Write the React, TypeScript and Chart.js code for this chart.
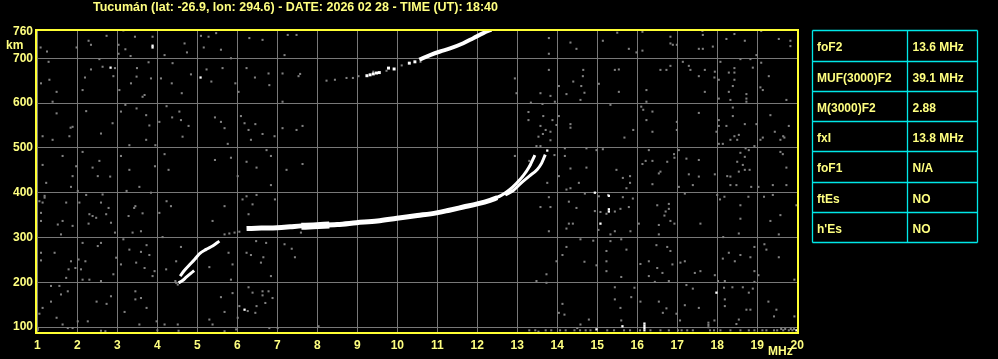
import React, { useEffect, useRef } from "react";
import { Chart, registerables } from "chart.js";
Chart.register(...registerables);

const TITLE = "Tucumán (lat: -26.9, lon: 294.6) - DATE: 2026 02 28 - TIME (UT): 18:40";
const freqTicks = [1, 2, 3, 4, 5, 6, 7, 8, 9, 10, 11, 12, 13, 14, 15, 16, 17, 18, 19, 20];
const heightTicks = [100, 200, 300, 400, 500, 600, 700, 760];
const paramNames = ["foF2", "MUF(3000)F2", "M(3000)F2", "fxI", "foF1", "ftEs", "h'Es"];
const paramValues = ["13.6 MHz", "39.1 MHz", "2.88", "13.8 MHz", "N/A", "NO", "NO"];

// F2 trace (MHz, km)
const mainTraceFreq = [6.23, 6.6, 7.0, 7.32, 7.6, 7.98, 8.5, 8.98, 9.5, 9.99, 10.5, 10.98, 11.3, 11.65, 12.0, 12.32, 12.5];
const mainTraceHeight = [320, 321, 322, 324, 326, 327, 329, 333, 337, 343, 349, 355, 361, 368, 375, 383, 389];
const blobFreq = [7.6, 7.9, 8.3];
const blobHeight = [325, 326, 328];
const ordinaryFreq = [12.45, 12.6, 12.8, 12.98, 13.15, 13.3, 13.44];
const ordinaryHeight = [388, 394, 406, 421, 438, 458, 484];
const extraFreq = [12.7, 12.9, 13.1, 13.3, 13.5, 13.61, 13.7];
const extraHeight = [395, 405, 422, 437, 452, 466, 485];
const lowUpperFreq = [4.57, 4.68, 4.8, 4.93, 5.05, 5.22, 5.38, 5.55];
const lowUpperHeight = [214, 227, 238.5, 251, 263.6, 273.5, 281, 292];
const lowLowerFreq = [4.53, 4.63, 4.73, 4.85, 4.92];
const lowLowerHeight = [199, 204, 212, 221, 226];
const hop2Freq = [10.55, 10.82, 11.07, 11.32, 11.65, 11.9, 12.15, 12.35];
const hop2Height = [697, 707, 715, 722, 733.5, 744.7, 756, 764];
const hop2DotsFreq = [9.24, 9.32, 9.4, 9.48, 9.55, 9.78, 9.92, 10.3, 10.44];
const hop2DotsHeight = [661, 663, 665, 667, 668, 678, 676, 689, 692];

const whiteSpecks: [number, number][] = [
  [2.83, 679], [3.88, 728], [3.88, 724], [5.08, 657], [6.18, 139], [13.75, 494], [14.94, 400], [15.29, 393],
  [15.29, 363], [15.29, 358], [15.08, 331], [17.98, 177], [15.63, 102], [14.98, 95], [16.18, 93], [16.18, 98],
  [16.18, 103], [16.18, 108], [19.98, 93],
];

const noiseUpperLeft: [number, number][] = [
  [1.08, 724], [1.24, 715], [1.28, 692], [1.09, 644], [1.3, 652], [1.48, 625], [1.38, 603], [1.48, 577], [1.13, 526],
  [1.38, 518], [1.8, 526], [1.83, 545], [1.98, 724], [2.28, 739], [2.73, 750], [3.15, 762], [3.44, 748], [3.88, 748],
  [3.2, 720], [3.03, 710], [3.33, 705], [2.55, 698], [2.63, 681], [2.94, 678], [2.9, 660], [2.19, 657], [2.34, 675],
  [2.13, 629], [3.05, 629], [3.49, 678], [3.48, 659], [3.78, 691], [3.84, 655], [4.09, 655], [3.34, 644], [3.68, 618],
  [3.63, 614], [4.18, 707], [4.38, 689], [4.36, 644], [4.61, 622], [4.84, 664], [5.23, 675], [5.35, 648], [5.63, 678],
  [5.95, 644], [6.03, 625], [6.23, 678], [6.44, 657], [6.8, 640], [6.78, 666], [7.13, 666], [7.13, 603], [7.18, 707],
  [7.26, 752], [6.63, 741], [6.3, 745], [5.47, 756], [5.28, 748], [5.09, 750], [5.16, 724], [5.59, 719], [5.84, 700],
  [4.74, 713], [4.68, 733], [2.88, 555], [2.22, 582], [1.88, 547], [2.59, 532], [3.09, 581], [3.2, 596], [3.48, 588],
  [3.72, 573], [3.8, 550], [3.72, 518], [3.95, 506], [3.3, 506], [3.3, 451], [3.09, 482], [3.94, 459], [4.18, 486],
  [4.28, 451], [4.37, 568], [4.55, 581], [4.59, 562], [4.63, 525], [4.78, 549], [4.05, 558], [4.23, 593], [5.44, 568],
  [5.59, 558], [5.68, 544], [6.09, 571], [6.18, 555], [6.28, 540], [6.45, 553], [6.34, 518], [6.63, 531], [6.93, 526],
  [7.13, 544], [5.76, 509], [5.84, 478], [6.23, 469], [6.48, 456], [6.73, 495], [6.84, 482], [7.23, 451], [6.01, 437],
  [5.44, 473], [2.55, 471], [2.38, 456], [2.13, 491], [1.63, 482], [1.13, 462], [1.97, 459], [1.88, 437], [2.82, 436],
  [2.51, 437], [2.34, 730], [3.03, 730],
];

const noiseLowerLeft: [number, number][] = [
  [1.18, 393], [1.18, 389], [1.13, 378], [1.05, 381], [1.09, 355], [1.09, 337], [1.63, 337], [1.51, 329], [1.88, 326],
  [1.59, 307], [1.72, 378], [1.84, 413], [2.01, 404], [2.22, 395], [2.05, 378], [2.3, 352], [2.38, 348], [2.47, 344],
  [2.28, 331], [2.59, 378], [2.63, 396], [2.78, 366], [2.72, 352], [2.94, 311], [2.84, 333], [3.23, 404], [3.45, 370],
  [3.42, 366], [3.28, 348], [3.63, 354], [3.38, 311], [3.59, 314], [3.55, 413], [3.84, 400], [4.23, 381], [4.34, 370],
  [4.05, 355], [4.13, 301], [2.59, 288], [2.51, 281], [2.13, 288], [1.09, 266], [1.09, 249], [1.43, 266], [1.84, 247],
  [2.03, 251], [2.2, 247], [2.09, 229], [1.78, 229], [1.95, 232], [1.72, 210], [2.13, 206], [2.3, 206], [2.59, 203],
  [2.97, 255], [3.09, 240], [2.9, 218], [3.15, 296], [3.3, 273], [3.59, 268], [3.73, 283], [3.8, 261], [3.47, 244],
  [3.68, 232], [3.93, 225], [3.88, 214], [4.59, 279], [4.47, 247], [4.22, 229], [5.38, 337], [5.68, 370], [5.78, 266],
  [5.88, 240], [5.84, 206], [5.3, 234], [6.13, 385], [6.23, 392], [6.48, 395], [6.38, 374], [6.28, 352], [6.47, 292],
  [6.72, 288], [6.94, 385], [6.84, 417], [7.18, 285], [6.23, 266], [6.34, 261], [6.65, 256], [6.59, 244], [6.84, 214],
  [1.22, 422], [1.34, 192], [1.55, 192], [1.76, 180], [1.59, 173], [1.34, 157], [1.13, 143], [1.48, 121], [1.63, 106],
  [1.05, 130], [2.48, 157], [2.84, 169], [2.73, 152], [2.26, 113], [2.01, 113], [1.76, 98], [1.88, 98], [3.18, 134],
  [3.45, 180], [3.45, 162], [3.59, 165], [3.73, 143], [3.55, 106], [3.98, 113], [4.18, 106], [4.51, 106], [2.7, 91],
  [1.01, 98], [1.01, 94], [5.59, 167], [5.88, 176], [5.68, 134], [6.05, 147], [6.28, 189], [6.38, 177], [6.63, 171],
  [6.7, 154], [6.88, 165], [6.48, 147], [6.63, 180], [6.78, 180], [6.01, 121], [6.26, 136], [6.45, 132], [7.01, 98],
  [6.8, 98], [5.97, 95], [5.3, 117], [5.38, 106], [5.68, 91], [4.45, 203], [4.51, 195], [4.47, 199], [5.68, 307],
  [5.8, 309], [5.93, 311], [6.05, 313], [2.59, 92], [4.0, 93], [4.53, 92],
];

const noiseMiddle: [number, number][] = [
  [7.48, 752], [7.57, 665], [7.53, 660], [7.48, 540], [7.63, 549], [7.63, 464], [12.94, 655], [12.98, 622],
  [13.58, 622], [13.63, 598], [13.34, 601], [13.28, 562], [13.65, 571], [13.58, 549], [13.64, 531], [13.53, 525],
  [13.48, 504], [13.58, 504], [12.94, 482], [13.3, 471], [13.33, 462], [13.13, 436], [8.23, 650], [8.44, 652],
  [8.73, 656], [8.89, 656], [9.03, 660], [9.4, 670], [9.73, 672], [10.58, 692], [10.75, 702], [10.11, 684],
  [7.36, 275], [7.44, 256], [7.59, 311], [8.03, 102], [13.48, 203], [13.58, 368], [13.53, 90], [13.28, 580],
];

const noiseUpperRight: [number, number][] = [
  [13.79, 745], [13.79, 710], [13.79, 674], [13.83, 616], [13.94, 603], [14.04, 638], [14.04, 571], [13.88, 562],
  [13.98, 551], [13.83, 536], [13.83, 517], [13.71, 540], [14.33, 735], [14.48, 721], [14.4, 648], [14.23, 620],
  [14.65, 674], [14.64, 660], [14.6, 638], [14.68, 623], [14.58, 607], [14.33, 553], [14.33, 545], [14.19, 499],
  [14.19, 482], [13.93, 484], [14.33, 454], [14.04, 437], [14.73, 499], [14.73, 456], [14.98, 495], [15.14, 739],
  [15.04, 643], [15.33, 596], [15.5, 757], [15.44, 674], [15.54, 675], [15.54, 625], [15.79, 721], [15.68, 523],
  [15.9, 540], [15.14, 497], [15.48, 451], [15.64, 433], [15.82, 437], [16.13, 759], [16.13, 717], [15.98, 713],
  [16.23, 629], [16.23, 603], [16.1, 592], [16.15, 585], [16.38, 581], [16.23, 562], [16.38, 536], [16.29, 495],
  [16.21, 471], [16.38, 471], [16.13, 464], [16.54, 443], [16.58, 447], [16.92, 486], [16.93, 478], [16.75, 469],
  [16.83, 748], [16.83, 733], [16.89, 730], [16.58, 674], [16.73, 674], [16.83, 683], [17.04, 495], [17.23, 476],
  [17.54, 473], [16.99, 730], [17.54, 721], [17.64, 721], [17.89, 726], [17.64, 752], [17.63, 761], [17.14, 692],
  [17.29, 683], [17.33, 674], [17.54, 660], [17.69, 674], [17.69, 625], [17.54, 578], [16.99, 558], [16.99, 540],
  [17.29, 441], [17.54, 436], [17.94, 670], [17.93, 657], [18.04, 652], [18.08, 692], [18.23, 743], [18.43, 754],
  [18.69, 739], [18.29, 668], [18.43, 678], [18.43, 668], [18.43, 652], [18.39, 638], [18.29, 625], [18.04, 610],
  [18.33, 607], [18.73, 620], [18.73, 610], [18.73, 603], [18.58, 698], [18.83, 698], [18.89, 679], [18.98, 707],
  [19.1, 690], [19.29, 660], [19.08, 635], [19.14, 629], [19.1, 761], [19.54, 743], [19.83, 739], [19.83, 727],
  [19.73, 607], [18.04, 562], [18.04, 549], [18.23, 549], [17.98, 536], [18.04, 509], [18.14, 509], [18.33, 518],
  [18.39, 590], [18.39, 571], [18.43, 526], [18.5, 518], [18.54, 529], [18.69, 553], [18.98, 553], [18.93, 504],
  [19.08, 518], [19.14, 523], [19.33, 573], [19.44, 536], [19.58, 518], [19.65, 526], [19.68, 523], [19.79, 549],
  [18.58, 489], [18.69, 480], [18.5, 469], [18.64, 462], [18.69, 451], [18.81, 451], [18.54, 447], [18.25, 437],
  [18.33, 436], [17.94, 441], [19.58, 491], [19.64, 486], [19.73, 456], [18.71, 499], [18.79, 495],
];

const noiseLowerRight: [number, number][] = [
  [13.75, 422], [13.79, 390], [13.83, 368], [13.79, 314], [14.29, 380], [14.48, 366], [14.29, 331], [14.39, 331],
  [14.23, 320], [14.23, 407], [14.33, 410], [14.54, 422], [14.69, 398], [14.94, 359], [15.08, 357], [15.23, 353],
  [15.04, 392], [15.27, 395], [15.44, 358], [15.64, 390], [15.58, 364], [15.79, 368], [15.89, 387], [15.73, 410],
  [15.82, 422], [15.44, 314], [15.33, 307], [15.03, 317], [15.83, 314], [16.04, 331], [16.38, 419], [16.5, 372],
  [16.79, 375], [16.79, 364], [16.71, 358], [16.68, 349], [16.54, 328], [16.54, 307], [16.83, 337], [16.93, 331],
  [17.04, 413], [17.19, 398], [17.39, 417], [17.58, 331], [18.0, 395], [18.07, 385], [18.18, 391], [18.33, 417],
  [18.48, 417], [18.58, 372], [18.58, 342], [18.54, 309], [18.15, 301], [18.78, 391], [18.85, 413], [19.03, 413],
  [19.17, 391], [19.39, 395], [19.39, 417], [19.73, 417], [19.58, 350], [19.33, 337], [19.54, 307], [19.98, 372],
  [14.58, 296], [14.9, 293], [15.33, 292], [15.6, 296], [14.23, 279], [14.13, 261], [13.98, 247], [14.68, 246],
  [14.98, 238], [15.23, 270], [15.23, 247], [15.23, 225], [15.6, 212], [15.73, 273], [16.08, 241], [16.29, 247],
  [16.29, 214], [16.48, 283], [16.5, 232], [16.63, 221], [16.75, 279], [16.83, 270], [16.88, 240], [17.08, 244],
  [17.19, 247], [17.44, 221], [17.58, 225], [17.94, 216], [18.14, 253], [18.29, 266], [18.44, 247], [18.58, 261],
  [18.83, 256], [18.93, 279], [18.93, 225], [19.03, 216], [19.18, 285], [19.23, 273], [19.54, 256], [19.93, 206],
  [16.44, 201], [16.79, 203], [17.23, 194], [18.02, 203], [18.19, 203], [18.93, 201], [13.73, 218], [13.73, 199],
  [14.04, 132], [14.13, 152], [14.18, 128], [14.79, 117], [14.58, 106], [14.5, 98], [15.44, 189], [15.44, 162],
  [15.58, 143], [15.85, 167], [15.93, 188], [15.6, 115], [16.08, 157], [16.54, 157], [16.64, 132], [16.73, 142],
  [16.98, 130], [17.07, 115], [17.19, 149], [17.39, 186], [17.54, 143], [17.78, 110], [17.78, 105], [17.78, 100],
  [17.93, 115], [18.17, 188], [18.19, 162], [18.19, 147], [18.38, 189], [18.64, 189], [18.79, 177], [18.89, 186],
  [18.73, 139], [18.83, 139], [18.48, 107], [18.54, 117], [19.28, 157], [19.48, 139], [19.42, 124], [19.93, 124],
];

const noiseBottomRow: [number, number][] = [
  [13.71, 93], [13.85, 93], [14.07, 93], [14.21, 93], [14.43, 93], [14.57, 93], [14.71, 93], [14.83, 93],
  [15.25, 93], [15.42, 93], [15.67, 93], [15.82, 93], [16.07, 93], [16.33, 93], [16.58, 93], [16.79, 93],
  [17.02, 93], [17.11, 93], [17.25, 93], [17.39, 93], [17.82, 93], [17.92, 93], [18.08, 93], [18.33, 93],
  [18.58, 93], [18.79, 93], [18.93, 93], [19.13, 93], [19.23, 93], [19.42, 93], [19.5, 93], [19.65, 93],
  [19.79, 93], [19.88, 93], [19.6, 96], [19.7, 96], [19.84, 96], [19.92, 96], [13.3, 93], [13.45, 93],
];

const YELLOW_TEXT = "#ffff80";
const AXIS_YELLOW = "#ffff33";
const GRID_GRAY = "#787878";
const NOISE_GRAY = "#808080";
const CYAN = "#00e8e8";
const FONT = "'Liberation Sans', Arial, sans-serif";

function pts(fr: number[], hs: number[]) {
  return fr.map((x, i) => ({ x, y: hs[i] }));
}
function pairs(a: [number, number][]) {
  return a.map(([x, y]) => ({ x, y }));
}

const overlayPlugin = {
  id: "ionoOverlay",
  beforeDraw(chart: any) {
    const c = chart.ctx;
    c.save();
    c.fillStyle = "#000";
    c.fillRect(0, 0, chart.width, chart.height);
    c.restore();
  },
  afterDraw(chart: any) {
    const c = chart.ctx;
    const a = chart.chartArea;
    c.save();
    // frame
    c.strokeStyle = AXIS_YELLOW;
    c.lineWidth = 2;
    c.strokeRect(a.left, a.top, a.right - a.left, a.bottom - a.top);
    // title, stretched to the reference width
    c.fillStyle = YELLOW_TEXT;
    c.font = `bold 12px ${FONT}`;
    c.textBaseline = "alphabetic";
    c.textAlign = "left";
    const tw = c.measureText(TITLE).width;
    const target = 405;
    c.save();
    c.translate(93, 11);
    c.scale(target / tw, 1);
    c.fillText(TITLE, 0, 0);
    c.restore();
    // unit labels
    c.fillText("km", 6, 48.5);
    c.fillText("MHz", 768, 355);
    // table
    const left = 812.5, mid = 907.5, right = 977.5;
    const rows = [30.5, 61.5, 91.5, 121.5, 151.5, 182.5, 212.5, 242.5];
    c.strokeStyle = CYAN;
    c.lineWidth = 1.3;
    c.beginPath();
    rows.forEach((y) => { c.moveTo(left, y); c.lineTo(right, y); });
    [left, mid, right].forEach((x) => { c.moveTo(x, rows[0]); c.lineTo(x, rows[rows.length - 1]); });
    c.stroke();
    paramNames.forEach((n, i) => {
      const y = rows[i] + 20.5;
      c.fillText(n, 817, y);
      c.fillText(paramValues[i], 912.5, y);
    });
    c.restore();
  },
};

export default function App() {
  const ref = useRef<HTMLCanvasElement | null>(null);
  useEffect(() => {
    if (!ref.current) return;
    const noiseDs = (data: any[]) => ({
      data,
      showLine: false,
      pointStyle: "rect",
      pointRadius: 1.45,
      borderWidth: 0,
      backgroundColor: NOISE_GRAY,
      order: 10,
    });
    const lineDs = (data: any[], w: number) => ({
      data,
      showLine: true,
      pointRadius: 0,
      borderColor: "#ffffff",
      borderWidth: w,
      cubicInterpolationMode: "monotone",
      borderCapStyle: "butt",
      order: 1,
    });
    const chart = new Chart(ref.current, {
      type: "scatter",
      data: {
        datasets: [
          lineDs(pts(mainTraceFreq, mainTraceHeight), 5),
          lineDs(pts(blobFreq, blobHeight), 7),
          lineDs(pts(ordinaryFreq, ordinaryHeight), 3),
          lineDs(pts(extraFreq, extraHeight), 3),
          lineDs(pts(lowUpperFreq, lowUpperHeight), 3),
          lineDs(pts(lowLowerFreq, lowLowerHeight), 3),
          lineDs(pts(hop2Freq, hop2Height), 4),
          {
            data: pts(hop2DotsFreq, hop2DotsHeight),
            showLine: false,
            pointStyle: "rect",
            pointRadius: 2.1,
            borderWidth: 0,
            backgroundColor: "#ffffff",
            order: 2,
          },
          {
            data: pairs(whiteSpecks),
            showLine: false,
            pointStyle: "rect",
            pointRadius: 1.6,
            borderWidth: 0,
            backgroundColor: "#ffffff",
            order: 3,
          },
          noiseDs(pairs(noiseUpperLeft)),
          noiseDs(pairs(noiseLowerLeft)),
          noiseDs(pairs(noiseMiddle)),
          noiseDs(pairs(noiseUpperRight)),
          noiseDs(pairs(noiseLowerRight)),
          noiseDs(pairs(noiseBottomRow)),
        ] as any,
      },
      options: {
        responsive: false,
        animation: false,
        devicePixelRatio: 1,
        events: [],
        layout: { padding: { left: 0, top: 30, right: 200, bottom: 0 } },
        plugins: { legend: { display: false }, tooltip: { enabled: false }, title: { display: false } },
        scales: {
          x: {
            type: "linear",
            min: 0.965,
            max: 20.02,
            afterBuildTicks: (s: any) => { s.ticks = freqTicks.map((v) => ({ value: v })); },
            afterFit: (s: any) => { s.height = 26; },
            grid: { color: GRID_GRAY, lineWidth: 1, drawTicks: false },
            border: { display: false },
            ticks: {
              color: YELLOW_TEXT,
              font: { family: FONT, size: 12, weight: "bold" },
              padding: 5,
              autoSkip: false,
              maxRotation: 0,
              callback: (v: any) => String(v),
            },
          },
          y: {
            type: "linear",
            min: 87,
            max: 763,
            afterBuildTicks: (s: any) => { s.ticks = heightTicks.map((v) => ({ value: v })); },
            afterFit: (s: any) => { s.width = 36; },
            grid: {
              color: (ctx: any) => (ctx.tick && ctx.tick.value === 760 ? "rgba(0,0,0,0)" : GRID_GRAY),
              lineWidth: 1,
              drawTicks: false,
            },
            border: { display: false },
            ticks: {
              color: YELLOW_TEXT,
              font: { family: FONT, size: 12, weight: "bold" },
              padding: 3,
              autoSkip: false,
              callback: (v: any) => String(v),
            },
          },
        },
      } as any,
      plugins: [overlayPlugin],
    });
    return () => chart.destroy();
  }, []);
  return (
    <div style={{ position: "absolute", left: 0, top: 0, width: 998, height: 359, background: "#000" }}>
      <canvas ref={ref} width={998} height={359} style={{ width: 998, height: 359, display: "block" }} />
    </div>
  );
}
